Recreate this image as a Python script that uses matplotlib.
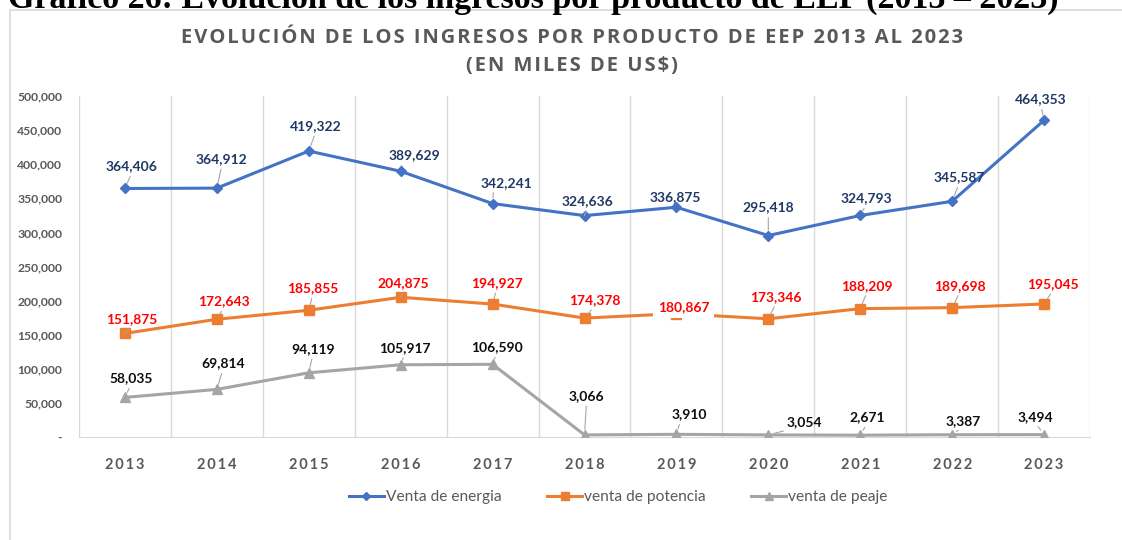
import matplotlib
matplotlib.use('Agg')
import matplotlib.pyplot as plt
from matplotlib.patches import Rectangle
from matplotlib.ticker import FuncFormatter

# Datos (miles de US$)
years = ['2013', '2014', '2015', '2016', '2017', '2018', '2019', '2020', '2021', '2022', '2023']
energia = [364406, 364912, 419322, 389629, 342241, 324636, 336875, 295418, 324793, 345587, 464353]
potencia = [151875, 172643, 185855, 204875, 194927, 174378, 180867, 173346, 188209, 189698, 195045]
peaje = [58035, 69814, 94119, 105917, 106590, 3066, 3910, 3054, 2671, 3387, 3494]

# desplazamiento de etiquetas (pixeles)
off_energia = [(7, 22), (5, 29), (7, 25), (14, 16), (14, 21), (3, 15), (-1, 10), (0, 28), (6, 17), (7, 24), (-3, 21)]
off_potencia = [(7, 14), (7, 18), (4, 22), (3, 14), (4, 21), (10, 18), (7, 7), (8, 22), (7, 23), (8, 22), (9, 20)]
off_peaje = [(6, 19), (6, 26), (4, 24), (4, 17), (4, 17), (2, 39), (13, 20), (36, 13), (7, 18), (11, 14), (-9, 18)]

FONT = ['Lato', 'DejaVu Sans']
GRIS = '#595959'
plt.rcParams['font.family'] = FONT

fig = plt.figure(figsize=(11.22, 5.4), dpi=100)
W, H = 1122, 540

# marco del grafico
fig.patches.append(Rectangle((10 / W, -0.1), 1.2, 1 - 10 / H + 0.1, transform=fig.transFigure,
                             fill=False, edgecolor='#D9D9D9', lw=1.2, zorder=0))

# encabezado del documento (cortado arriba)
fig.text(8 / W, 1 - 8 / H, 'Gráfico 26: Evolución de los ingresos por producto de EEP (2013 – 2023)',
         family='Liberation Serif', weight='bold', fontsize=24.5, color='black', va='baseline', ha='left')

titulo1 = 'EVOLUCIÓN DE LOS INGRESOS POR PRODUCTO DE EEP 2013 AL 2023'
titulo2 = '(EN MILES DE US$)'
fig.text(572 / W, 1 - 38 / H, '\u200a'.join(titulo1),
         family=['Open Sans', 'DejaVu Sans'], weight='bold', fontsize=14.5, color=GRIS, ha='center', va='center')
fig.text(572 / W, 1 - 66 / H, '\u200a'.join(titulo2),
         family=['Open Sans', 'DejaVu Sans'], weight='bold', fontsize=14.5, color=GRIS, ha='center', va='center')

ax = fig.add_axes([79 / W, 1 - 437 / H, (1090 - 79) / W, (437 - 96) / H])
x = list(range(len(years)))

ax.plot(x, energia, color='#4472C4', lw=2.2, marker='D', ms=5, label='Venta de energia', zorder=3)
ax.plot(x, potencia, color='#ED7D31', lw=2.2, marker='s', ms=7, label='venta de potencia', zorder=3)
ax.plot(x, peaje, color='#A5A5A5', lw=2.2, marker='^', ms=7, label='venta de peaje', zorder=3)

ax.set_xlim(-0.5, len(years) - 0.5)
ax.set_ylim(0, 500000)
ax.set_yticks(range(0, 500001, 50000))
ax.yaxis.set_major_formatter(FuncFormatter(lambda v, p: '-' if v == 0 else f'{int(v):,}'))
ax.set_xticks(x)
ax.set_xticklabels(['\u2009'.join(y) for y in years], fontsize=10.5, weight='bold', color=GRIS)
ax.tick_params(axis='y', length=0, labelsize=8.7, labelcolor=GRIS, pad=12)
ax.tick_params(axis='x', length=0, pad=15)
for lab in ax.get_yticklabels():
    lab.set_fontweight('bold')

# lineas verticales entre categorias
for b in range(len(years) + 1):
    ax.axvline(b - 0.5, color='#D9D9D9', lw=1, zorder=1)
for s in ['top', 'right', 'left']:
    ax.spines[s].set_visible(False)
ax.spines['bottom'].set_color('#D9D9D9')


def etiquetas(vals, offs, color, bg_idx=None):
    for i, (v, (dx, dy)) in enumerate(zip(vals, offs)):
        dist = (dx ** 2 + dy ** 2) ** 0.5
        props = None
        if dist > 14:
            props = dict(arrowstyle='-', color='#A6A6A6', lw=0.8, shrinkA=1, shrinkB=4,
                         relpos=(0.25, 0) if dx > 12 else (0.5, 0))
        bbox = dict(boxstyle='square,pad=0.35', fc='white', ec='none') if i == bg_idx else None
        ax.annotate(f'{v:,}', xy=(i, v), xytext=(dx, dy), textcoords='offset pixels',
                    ha='center', va='center', fontsize=10, weight='bold', color=color,
                    arrowprops=props, bbox=bbox, zorder=5)


etiquetas(energia, off_energia, '#1F3864')
etiquetas(potencia, off_potencia, '#FF0000', bg_idx=6)
etiquetas(peaje, off_peaje, '#0D0D0D')

leg = fig.legend(loc='center', bbox_to_anchor=(618 / W, 1 - 497 / H), ncol=3, frameon=False,
                 fontsize=11.2, handlelength=2.3, handletextpad=0.1, columnspacing=2.9, markerscale=0.75)
for t in leg.get_texts():
    t.set_color(GRIS)

fig.savefig('out.png', dpi=100)
